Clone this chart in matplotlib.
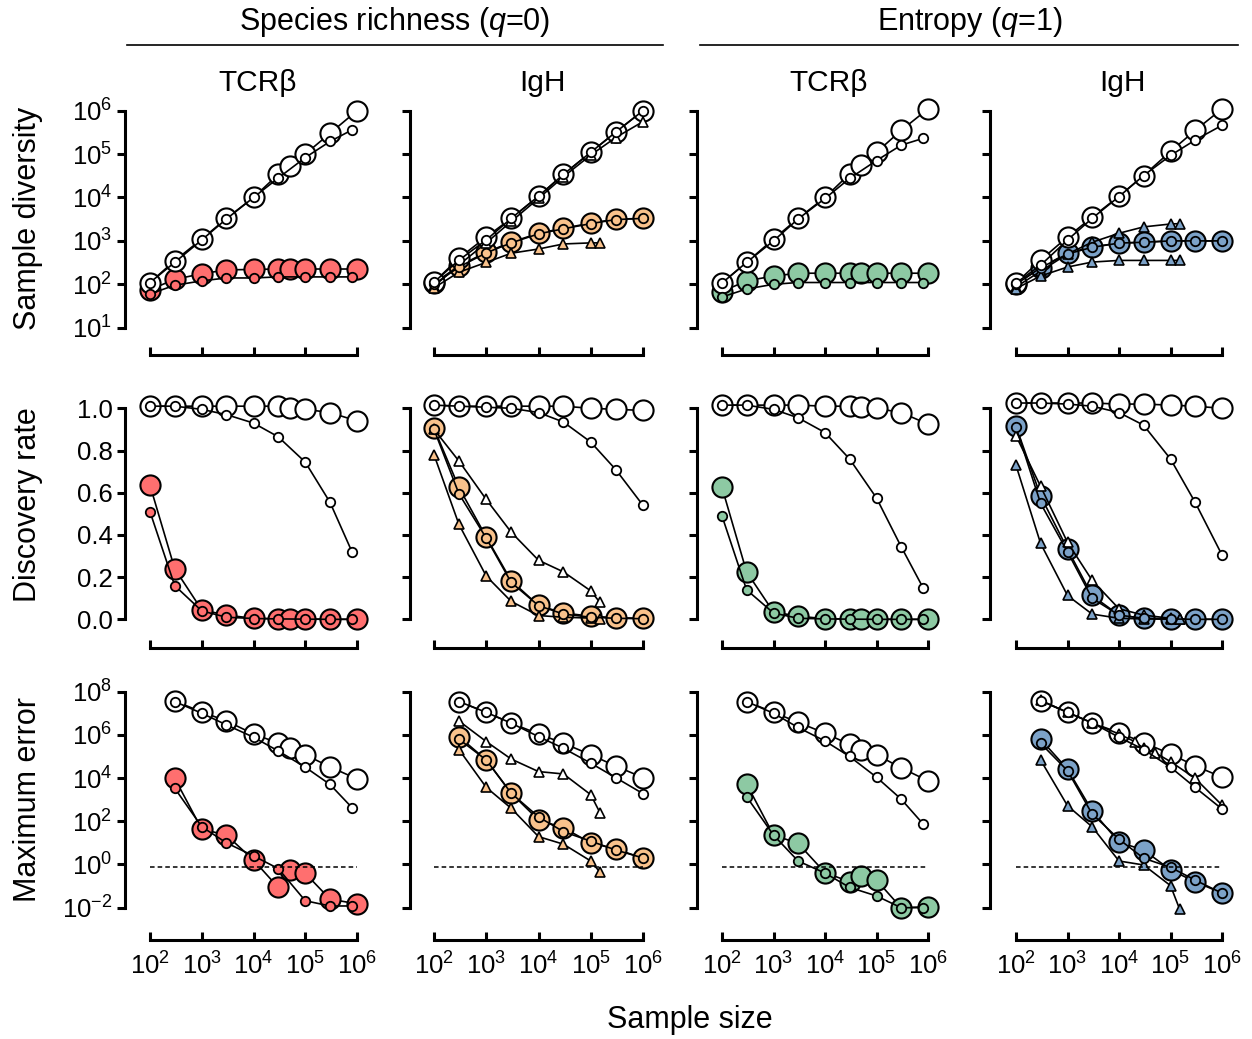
import numpy as np
import matplotlib.pyplot as plt
from matplotlib.lines import Line2D

plt.rcParams['font.family'] = ['Liberation Sans', 'DejaVu Sans']
plt.rcParams['mathtext.fontset'] = 'custom'
plt.rcParams['mathtext.rm'] = 'Liberation Sans'
plt.rcParams['mathtext.it'] = 'Liberation Sans:italic'
plt.rcParams['axes.unicode_minus'] = False

# sample sizes
x_big10 = [1e2, 3e2, 1e3, 3e3, 1e4, 3e4, 5e4, 1e5, 3e5, 1e6]
x_small9 = [1e2, 3e2, 1e3, 3e3, 1e4, 3e4, 1e5, 3e5, 8e5]
x_9 = [1e2, 3e2, 1e3, 3e3, 1e4, 3e4, 1e5, 3e5, 1e6]
x_tri = [1e2, 3e2, 1e3, 3e3, 1e4, 3e4, 1e5, 1.5e5]
x_tri10 = [3e2, 1e3, 3e3, 1e4, 2e4, 3e4, 5e4, 1e5, 3e5, 1e6]

# --- sample diversity (row 1) ---
div_c1_open_big = [110, 350, 1100, 3300, 1.0e4, 3.4e4, 5.2e4, 1.0e5, 3.0e5, 1.0e6]
div_c1_open_small = [110, 320, 1050, 3200, 1.0e4, 2.8e4, 8.3e4, 1.95e5, 3.6e5]
div_c1_fill_big = [75, 130, 175, 215, 220, 225, 225, 225, 225, 225]
div_c1_fill_small = [60, 95, 120, 140, 140, 148, 148, 148, 148]

div_c2_open_big = [112, 400, 1230, 3300, 1.07e4, 3.4e4, 1.1e5, 3.2e5, 1.0e6]
div_c2_open_small = [112, 360, 1050, 3300, 1.07e4, 3.4e4, 1.1e5, 3.2e5, 1.0e6]
div_c2_open_tri = [90, 280, 900, 2800, 9500, 3.0e4, 9.5e4, 2.4e5, 5.6e5]
div_c2_fill_big = [107, 263, 550, 930, 1500, 1950, 2570, 3160, 3300]
div_c2_fill_small = [100, 250, 530, 900, 1450, 1900, 2500, 3100, 3300]
div_c2_fill_tri = [83, 190, 320, 520, 650, 850, 900, 900]

div_c3_open_big = [107, 320, 1100, 3300, 1.0e4, 3.5e4, 5.5e4, 1.1e5, 3.5e5, 1.1e6]
div_c3_open_small = [107, 320, 1000, 3200, 9500, 2.75e4, 7.1e4, 1.6e5, 2.3e5]
div_c3_fill_big = [68, 120, 155, 180, 180, 180, 180, 180, 180, 180]
div_c3_fill_small = [51, 78, 100, 110, 110, 110, 110, 110, 110]

div_c4_open_big = [107, 360, 1230, 3500, 1.07e4, 3.2e4, 1.15e5, 3.5e5, 1.1e6]
div_c4_open_small = [107, 275, 1050, 3300, 1.05e4, 3.2e4, 9.3e4, 2.1e5, 4.6e5]
div_c4_fill_big = [100, 240, 525, 725, 890, 930, 1000, 1000, 1000]
div_c4_fill_small = [100, 240, 500, 710, 890, 930, 1000, 1000, 1000]
div_c4_fill_tri = [87, 200, 500, 930, 1500, 2100, 2450, 2500]
div_c4_fill_tri2 = [80, 155, 250, 325, 355, 355, 355, 355]

# --- discovery rate (row 2) ---
rate_c1_open_big = [1.01, 1.01, 1.01, 1.01, 1.01, 1.01, 1.0, 0.995, 0.98, 0.94]
rate_c1_open_small = [1.01, 1.01, 0.995, 0.97, 0.93, 0.865, 0.745, 0.555, 0.32]
rate_c1_fill_big = [0.635, 0.24, 0.045, 0.02, 0.005, 0.003, 0.002, 0.001, 0.001, 0.0]
rate_c1_fill_small = [0.51, 0.16, 0.04, 0.01, 0.004, 0.002, 0.001, 0.0, 0.0]

rate_c2_open_big = [1.015, 1.01, 1.01, 1.01, 1.01, 1.01, 1.0, 0.995, 0.99]
rate_c2_open_small = [1.015, 1.01, 1.005, 1.0, 0.98, 0.935, 0.84, 0.71, 0.54]
rate_c2_open_tri = [0.9, 0.75, 0.568, 0.413, 0.28, 0.225, 0.135, 0.08]
rate_c2_fill_big = [0.905, 0.625, 0.39, 0.183, 0.066, 0.03, 0.015, 0.008, 0.005]
rate_c2_fill_small = [0.9, 0.595, 0.385, 0.175, 0.065, 0.025, 0.01, 0.005, 0.003]
rate_c2_fill_tri = [0.78, 0.45, 0.205, 0.085, 0.018, 0.01, 0.006, 0.004]

rate_c3_open_big = [1.015, 1.015, 1.015, 1.015, 1.01, 1.01, 1.005, 1.0, 0.98, 0.925]
rate_c3_open_small = [1.015, 1.015, 0.995, 0.955, 0.885, 0.76, 0.575, 0.345, 0.15]
rate_c3_fill_big = [0.625, 0.225, 0.035, 0.015, 0.003, 0.002, 0.001, 0.001, 0.0, 0.0]
rate_c3_fill_small = [0.49, 0.14, 0.03, 0.005, 0.002, 0.001, 0.0, 0.0, 0.0]

rate_c4_open_big = [1.025, 1.025, 1.025, 1.025, 1.02, 1.02, 1.015, 1.01, 1.0]
rate_c4_open_small = [1.025, 1.025, 1.02, 1.01, 0.98, 0.92, 0.76, 0.555, 0.305]
rate_c4_open_tri = [0.87, 0.63, 0.365, 0.185, 0.05, 0.02, 0.005, 0.0]
rate_c4_fill_big = [0.915, 0.585, 0.333, 0.113, 0.02, 0.005, 0.002, 0.001, 0.0]
rate_c4_fill_small = [0.91, 0.55, 0.32, 0.1, 0.02, 0.005, 0.002, 0.0, 0.0]
rate_c4_fill_tri = [0.73, 0.36, 0.113, 0.025, 0.005, 0.002, 0.001, 0.0]

# --- maximum error (row 3), from 3e2 on ---
err_c1_open_big = [3.7e7, 1.15e7, 4.4e6, 1.1e6, 4.2e5, 2.5e5, 1.2e5, 3.3e4, 9.1e3]
err_c1_open_small = [3.5e7, 1.0e7, 2.9e6, 7.8e5, 1.8e5, 3.2e4, 5.1e3, 430]
err_c1_fill_big = [9800, 43, 23, 1.6, 0.087, 0.56, 0.39, 0.025, 0.015]
err_c1_fill_small = [3400, 56, 10, 2.5, 0.65, 0.021, 0.012, 0.012]

err_c2_open_big = [3.5e7, 1.1e7, 3.5e6, 1.1e6, 4.1e5, 1.2e5, 3.6e4, 1.05e4]
err_c2_open_small = [3.5e7, 1.1e7, 3.5e6, 8.3e5, 2.4e5, 4.9e4, 1.05e4, 1.9e3]
err_c2_open_tri = [4.4e6, 4.9e5, 7.6e4, 2.0e4, 1.55e4, 1.7e3, 250]
err_c2_fill_big = [8.3e5, 6.9e4, 2000, 115, 50, 10, 5.2, 1.95]
err_c2_fill_small = [6.3e5, 6.9e4, 2000, 160, 33, 12, 4.7, 2.0]
err_c2_fill_tri = [2.1e5, 3700, 400, 19.5, 8.7, 1.45, 0.44]

err_c3_open_big = [3.5e7, 1.1e7, 3.8e6, 1.2e6, 3.6e5, 2.0e5, 1.2e5, 3.0e4, 7.4e3]
err_c3_open_small = [3.5e7, 1.0e7, 2.2e6, 5.2e5, 1.0e5, 1.1e4, 1.07e3, 76]
err_c3_fill_big = [5400, 23, 9.5, 0.42, 0.16, 0.28, 0.19, 0.01, 0.011]
err_c3_fill_small = [1380, 23, 1.45, 0.4, 0.087, 0.035, 0.01, 0.01]

err_c4_open_big = [3.8e7, 1.1e7, 3.6e6, 1.26e6, 4.4e5, 1.3e5, 3.7e4, 1.1e4]
err_c4_open_small = [3.8e7, 1.1e7, 3.6e6, 7.8e5, 2.1e5, 3.2e4, 3.7e3, 370]
err_c4_open_tri = [4.0e7, 1.1e7, 3.6e6, 1.1e6, 4.9e5, 2.4e5, 1.5e5, 5.8e4, 9.8e3, 560]
err_c4_fill_big = [6.3e5, 2.6e4, 310, 10.7, 4.7, 0.56, 0.16, 0.047]
err_c4_fill_small = [4.1e5, 2.2e4, 220, 14.8, 1.95, 0.74, 0.19, 0.047]
err_c4_fill_tri = [6.9e4, 525, 56, 1.45, 0.95, 0.105, 0.0087]

err_threshold = 0.8

col_colors = ['#FF6F6F', '#F9C28C', '#8DC9A3', '#7CA2C8']
col_titles = ['TCRβ', 'IgH', 'TCRβ', 'IgH']
row_labels = ['Sample diversity', 'Discovery rate', 'Maximum error']

# panel contents: (x, y, kind, filled)
panels = [
    [
        [(x_big10, div_c1_fill_big, 'big', True), (x_big10, div_c1_open_big, 'big', False),
         (x_small9, div_c1_fill_small, 'small', True), (x_small9, div_c1_open_small, 'small', False)],
        [(x_9, div_c2_fill_big, 'big', True), (x_9, div_c2_open_big, 'big', False),
         (x_9, div_c2_open_tri, 'tri', False), (x_tri, div_c2_fill_tri, 'tri', True),
         (x_9, div_c2_fill_small, 'small', True), (x_9, div_c2_open_small, 'small', False)],
        [(x_big10, div_c3_fill_big, 'big', True), (x_big10, div_c3_open_big, 'big', False),
         (x_small9, div_c3_fill_small, 'small', True), (x_small9, div_c3_open_small, 'small', False)],
        [(x_9, div_c4_fill_big, 'big', True), (x_9, div_c4_open_big, 'big', False),
         (x_tri, div_c4_fill_tri, 'tri', True), (x_tri, div_c4_fill_tri2, 'tri', True),
         (x_9, div_c4_fill_small, 'small', True), (x_9, div_c4_open_small, 'small', False)],
    ],
    [
        [(x_big10, rate_c1_fill_big, 'big', True), (x_big10, rate_c1_open_big, 'big', False),
         (x_small9, rate_c1_fill_small, 'small', True), (x_small9, rate_c1_open_small, 'small', False)],
        [(x_9, rate_c2_fill_big, 'big', True), (x_9, rate_c2_open_big, 'big', False),
         (x_tri, rate_c2_open_tri, 'tri', False), (x_tri, rate_c2_fill_tri, 'tri', True),
         (x_9, rate_c2_fill_small, 'small', True), (x_9, rate_c2_open_small, 'small', False)],
        [(x_big10, rate_c3_fill_big, 'big', True), (x_big10, rate_c3_open_big, 'big', False),
         (x_small9, rate_c3_fill_small, 'small', True), (x_small9, rate_c3_open_small, 'small', False)],
        [(x_9, rate_c4_fill_big, 'big', True), (x_9, rate_c4_open_big, 'big', False),
         (x_tri, rate_c4_open_tri, 'tri', False), (x_tri, rate_c4_fill_tri, 'tri', True),
         (x_9, rate_c4_fill_small, 'small', True), (x_9, rate_c4_open_small, 'small', False)],
    ],
    [
        [(x_big10[1:], err_c1_fill_big, 'big', True), (x_big10[1:], err_c1_open_big, 'big', False),
         (x_small9[1:], err_c1_fill_small, 'small', True), (x_small9[1:], err_c1_open_small, 'small', False)],
        [(x_9[1:], err_c2_fill_big, 'big', True), (x_9[1:], err_c2_open_big, 'big', False),
         (x_tri[1:], err_c2_open_tri, 'tri', False), (x_tri[1:], err_c2_fill_tri, 'tri', True),
         (x_9[1:], err_c2_fill_small, 'small', True), (x_9[1:], err_c2_open_small, 'small', False)],
        [(x_big10[1:], err_c3_fill_big, 'big', True), (x_big10[1:], err_c3_open_big, 'big', False),
         (x_small9[1:], err_c3_fill_small, 'small', True), (x_small9[1:], err_c3_open_small, 'small', False)],
        [(x_9[1:], err_c4_fill_big, 'big', True), (x_9[1:], err_c4_open_big, 'big', False),
         (x_tri10, err_c4_open_tri, 'tri', False), (x_tri[1:], err_c4_fill_tri, 'tri', True),
         (x_9[1:], err_c4_fill_small, 'small', True), (x_9[1:], err_c4_open_small, 'small', False)],
    ],
]

W, H = 1252, 1039
fig = plt.figure(figsize=(W / 100, H / 100), dpi=100)


def rect(x0, y0, x1, y1):
    return [x0 / W, 1 - y1 / H, (x1 - x0) / W, (y1 - y0) / H]


spine_x = [125, 410, 697, 990]
x100 = [150, 434, 722, 1016]
dec = [51.75, 52.25, 51.5, 51.5]
# (top px, bottom px, ylim, yticks, log)
rows = [
    (100, 335, (10 ** 0.832, 10 ** 6.246), [10.0 ** k for k in range(1, 7)], True),
    (395, 628, (-0.041, 1.063), [0, 0.2, 0.4, 0.6, 0.8, 1.0], False),
    (680, 920, (10 ** -2.57, 10 ** 8.54), [10.0 ** k for k in range(-2, 9, 2)], True),
]
row_label_y = [218, 505, 800]
styles = {
    'big': dict(marker='o', ms=14.5, mew=1.5),
    'small': dict(marker='o', ms=6.8, mew=1.3),
    'tri': dict(marker='^', ms=7.2, mew=1.2),
}

for r, (top, bot, ylim, yticks, logy) in enumerate(rows):
    for c in range(4):
        right = x100[c] + 4 * dec[c] + 15
        ax = fig.add_axes(rect(spine_x[c], top, right, bot))
        ax.set_xscale('log')
        ax.set_xlim(10 ** (2 - (x100[c] - spine_x[c]) / dec[c]), 10 ** (6 + 15 / dec[c]))
        if logy:
            ax.set_yscale('log')
        ax.set_ylim(*ylim)

        for xs, ys, kind, filled in panels[r][c]:
            fc = col_colors[c] if filled else 'white'
            ax.plot(xs, ys, '-', color='black', lw=1.2, mfc=fc, mec='black',
                    clip_on=False, **styles[kind])

        if r == 2:
            ax.plot([1e2, 1e6], [err_threshold, err_threshold], '--', color='black',
                    lw=1.1, dashes=(3, 2))

        for s in ['top', 'right']:
            ax.spines[s].set_visible(False)
        ax.spines['left'].set_linewidth(2.2)
        ax.spines['bottom'].set_linewidth(2.2)
        ax.spines['left'].set_bounds(yticks[0], yticks[-1])
        ax.spines['bottom'].set_bounds(1e2, 1e6)
        ax.spines['bottom'].set_position(('outward', 14.4))

        ax.set_xticks([1e2, 1e3, 1e4, 1e5, 1e6])
        ax.xaxis.set_minor_locator(plt.NullLocator())
        ax.set_yticks(yticks)
        ax.yaxis.set_minor_locator(plt.NullLocator())
        ax.tick_params(axis='y', direction='out', length=6, width=2.2, labelsize=18.5, pad=3)
        ax.tick_params(axis='x', direction='in', length=6, width=2.2, labelsize=18.5, pad=9)
        if r == 1:
            ax.set_yticklabels(['0.0', '0.2', '0.4', '0.6', '0.8', '1.0'])
        if c > 0:
            ax.set_yticklabels([])
        if r < 2:
            ax.set_xticklabels([])
        if c == 0:
            fig.text(28 / W, 1 - row_label_y[r] / H, row_labels[r], rotation=90,
                     ha='center', va='center', fontsize=22)
        if r == 0:
            fig.text((x100[c] + 2 * dec[c] + 4) / W, 1 - 83 / H, col_titles[c],
                     ha='center', va='center', fontsize=21.5)

fig.text(395 / W, 1 - 22 / H, r'Species richness ($q$=0)', ha='center', va='center', fontsize=22)
fig.text(970 / W, 1 - 22 / H, r'Entropy ($q$=1)', ha='center', va='center', fontsize=22)
fig.add_artist(Line2D([127 / W, 663 / W], [1 - 45 / H, 1 - 45 / H], color='black', lw=1.2))
fig.add_artist(Line2D([700 / W, 1238 / W], [1 - 45 / H, 1 - 45 / H], color='black', lw=1.2))
fig.text(690 / W, 1 - 1020 / H, 'Sample size', ha='center', va='center', fontsize=22)

fig.savefig('out.png', dpi=100)
